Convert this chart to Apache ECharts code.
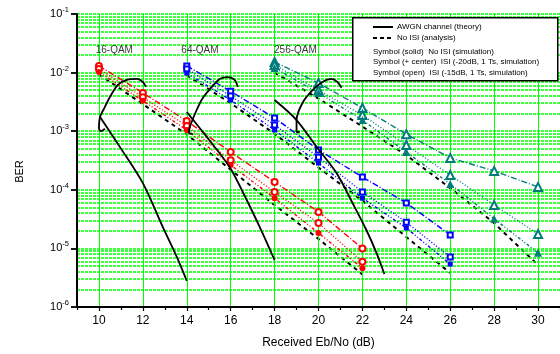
<!DOCTYPE html>
<html><head><meta charset="utf-8">
<script src="https://cdn.jsdelivr.net/npm/echarts@6/dist/echarts.min.js"></script>
<style>html,body{margin:0;padding:0;background:#fff}#c{width:560px;height:354px}</style>
</head><body><div id="c"></div>
<script>
// ---- data ----
const xTicks = [10,12,14,16,18,20,22,24,26,28,30];
const xMinorTicks = [9,11,13,15,17,19,21,23,25,27,29,31];
const yDecades = [1e-6,1e-5,1e-4,1e-3,1e-2,1e-1];
const yMinor = [2e-6,3e-6,4e-6,5e-6,6e-6,7e-6,8e-6,9e-6,2e-5,3e-5,4e-5,5e-5,6e-5,7e-5,8e-5,9e-5,2e-4,3e-4,4e-4,5e-4,6e-4,7e-4,8e-4,9e-4,2e-3,3e-3,4e-3,5e-3,6e-3,7e-3,8e-3,9e-3,2e-2,3e-2,4e-2,5e-2,6e-2,7e-2,8e-2,9e-2];

const xs16 = [10,12,14,16,18,20,22];
const ber16Solid = [1.02e-2,3.3e-3,1.05e-3,2.65e-4,7.2e-5,1.83e-5,4.6e-6];
const ber16Center = [1.15e-2,3.8e-3,1.23e-3,3.2e-4,9.2e-5,2.7e-5,5.9e-6];
const ber16Open = [1.3e-2,4.5e-3,1.5e-3,4.4e-4,1.36e-4,4.2e-5,1.0e-5];
const ber16Analysis = [9.3e-3,2.9e-3,8.8e-4,2.2e-4,5.5e-5,1.45e-5,3.6e-6];

const xs64 = [14,16,18,20,22,24,26];
const ber64Solid = [9.8e-3,3.4e-3,1.05e-3,2.86e-4,7.2e-5,2.23e-5,5.4e-6];
const ber64Center = [1.15e-2,4.0e-3,1.28e-3,3.6e-4,9.2e-5,2.8e-5,7.1e-6];
const ber64Open = [1.3e-2,4.8e-3,1.68e-3,4.8e-4,1.65e-4,5.96e-5,1.7e-5];
const ber64Analysis = [9.0e-3,3.0e-3,9.0e-4,2.4e-4,6.5e-5,1.57e-5,3.8e-6];

const xs256 = [18,20,22,24,26,28,30];
const ber256Solid = [1.2e-2,4.5e-3,1.55e-3,4.4e-4,1.26e-4,3.2e-5,8.4e-6];
const ber256Center = [1.35e-2,5.0e-3,1.89e-3,5.8e-4,1.79e-4,5.5e-5,1.76e-5];
const ber256Open = [1.52e-2,6.65e-3,2.49e-3,8.9e-4,3.5e-4,2.1e-4,1.12e-4];
const ber256Analysis = [1.0e-2,3.6e-3,1.2e-3,3.9e-4,1.07e-4,2.7e-5,5.2e-6];

const theory16Hook = [[10.27,1.1e-3],[10.09,1.0e-3],[10.0,1.13e-3],[10.05,1.75e-3],[10.27,2.6e-3],[10.5,3.84e-3],[10.86,6.2e-3],[11.27,7.5e-3],[11.73,7.8e-3],[12.0,6.9e-3],[12.14,5.7e-3]];
const theory16Drop = [[10.05,1.75e-3],[10.95,5.4e-4],[12.0,1.3e-4],[12.91,2.3e-5],[13.55,7.1e-6],[14.0,2.8e-6]];
const theory64Hook = [[14.27,9.0e-4],[14.1,9.3e-4],[14.14,1.18e-3],[14.45,2.3e-3],[14.73,3.7e-3],[15.14,5.7e-3],[15.5,7.8e-3],[15.86,8.4e-3],[16.18,7.5e-3],[16.32,5.7e-3]];
const theory64Drop = [[14.0,2.13e-3],[14.91,8.0e-4],[15.95,2.45e-4],[16.73,6.7e-5],[17.45,1.83e-5],[18.0,6.3e-6]];
const theory256Hook = [[19.14,9.7e-4],[19.0,9.7e-4],[19.0,1.55e-3],[19.27,3.03e-3],[19.73,5.0e-3],[20.18,6.9e-3],[20.59,7.8e-3],[20.86,6.9e-3],[21.05,5.5e-3]];
const theory256Drop = [[18.0,3.4e-3],[19.0,1.55e-3],[19.91,5.4e-4],[20.82,1.94e-4],[21.55,5.96e-5],[22.18,2.06e-5],[22.64,8.4e-6],[23.0,3.66e-6]];

const groupLabels = ['16-QAM','64-QAM','256-QAM'];
const groupLabelX = [10.7,14.6,18.95];
const groupLabelY = [2.4e-2,2.4e-2,2.4e-2];

const legendTexts = ['AWGN channel (theory)','No ISI (analysis)','Symbol (solid)  No ISI (simulation)','Symbol (+ center)  ISI (-20dB, 1 Ts, simulation)','Symbol (open)  ISI (-15dB, 1 Ts, simulation)'];

// ---- build ----
const FONT = 'Liberation Sans, Arial, sans-serif';
const RED = '#ff0000', BLUE = '#0000ff', TEAL = '#007b7b';
const GREEN = '#00ff00';
const X_MIN = 9, X_MAX = 31;
const zip = (xs, ys) => xs.map((x,i)=>[x, ys[i]]);

function simSeries(xs, ys, color, sym, kind, dash) {
  const size = sym==='triangle'?8:(sym==='rect'?5:6);
  const base = {
    type:'line', data: zip(xs, ys), z: 5, animation:false,
    lineStyle:{color, width:1.4, type:dash},
    itemStyle:{color, borderColor:color},
    symbolSize:size, symbolKeepAspect:true
  };
  if (kind==='solid') { base.symbol = sym; base.itemStyle.borderWidth=0; }
  else if (kind==='center') { base.symbol = 'empty'+sym[0].toUpperCase()+sym.slice(1); base.itemStyle.borderWidth=2.4; }
  else { base.symbol = 'empty'+sym[0].toUpperCase()+sym.slice(1); base.itemStyle.borderWidth=1.3; }
  return base;
}
function analysisSeries(xs, ys) {
  return {type:'line', data: zip(xs, ys), z:4, animation:false, symbol:'none',
    lineStyle:{color:'#000', width:2, type:[4,4]}};
}
function theorySeries(pts) {
  return {type:'line', data: pts, z:6, animation:false, symbol:'none', smooth:0.3,
    lineStyle:{color:'#000', width:1.8}};
}
const hGrid = yMinor.concat(yDecades).map(v => [{coord:[X_MIN, v]}, {coord:[X_MAX, v]}]);
const vGrid = xTicks.map(v => [{coord:[v, 1e-6]}, {coord:[v, 1e-1]}]);
const yMinorTickMarks = yMinor.map(v => [{coord:[X_MIN-0.2, v]}, {coord:[X_MIN, v]}]);

function markLineSeries(data, style, z) {
  return {type:'line', data:[], z:z, silent:true, animation:false, clip:false,
    markLine:{silent:true, symbol:['none','none'], label:{show:false}, animation:false,
      lineStyle:style, emphasis:{disabled:true}, data:data}};
}

const series = [
  markLineSeries(hGrid, {color:GREEN, width:1.6, type:[3,1]}, 1),
  markLineSeries(vGrid, {color:GREEN, width:1, type:'solid'}, 1),
  markLineSeries(yMinorTickMarks, {color:'#000', width:1.5, type:'solid'}, 9),
  analysisSeries(xs16, ber16Analysis), analysisSeries(xs64, ber64Analysis), analysisSeries(xs256, ber256Analysis),
  simSeries(xs16, ber16Open, RED, 'circle', 'open', [6,2,1,2]),
  simSeries(xs16, ber16Center, RED, 'circle', 'center', [1,2]),
  simSeries(xs16, ber16Solid, RED, 'circle', 'solid', [3,2,1,2,1,2]),
  simSeries(xs64, ber64Open, BLUE, 'rect', 'open', [6,2,1,2]),
  simSeries(xs64, ber64Center, BLUE, 'rect', 'center', [1,2]),
  simSeries(xs64, ber64Solid, BLUE, 'rect', 'solid', [3,2,1,2,1,2]),
  simSeries(xs256, ber256Open, TEAL, 'triangle', 'open', [6,2,1,2]),
  simSeries(xs256, ber256Center, TEAL, 'triangle', 'center', [1,2]),
  simSeries(xs256, ber256Solid, TEAL, 'triangle', 'solid', [3,2,1,2,1,2]),
  theorySeries(theory16Hook), theorySeries(theory16Drop),
  theorySeries(theory64Hook), theorySeries(theory64Drop),
  theorySeries(theory256Hook), theorySeries(theory256Drop),
  {type:'scatter', z:7, animation:false, symbolSize:0, silent:true,
   data: groupLabels.map((t,i)=>({value:[groupLabelX[i], groupLabelY[i]], name:t})),
   label:{show:true, position:'inside', formatter: p=>p.name, color:'#000', fontFamily:FONT, fontSize:10}}
];

const option = {
  backgroundColor:'#fff',
  animation:false,
  textStyle:{fontFamily:FONT},
  grid:{left:77, right:0, top:14, bottom:47, containLabel:false},
  xAxis:[
    {type:'value', min:X_MIN, max:X_MAX, z:10,
     axisLine:{lineStyle:{color:'#000', width:2}},
     axisTick:{customValues:xTicks, length:4, lineStyle:{color:'#000', width:1.2}},
     axisLabel:{customValues:xTicks, color:'#000', fontSize:12, margin:8, fontFamily:FONT},
     splitLine:{show:false},
     name:'Received Eb/No (dB)', nameLocation:'middle', nameGap:30,
     nameTextStyle:{color:'#000', fontSize:12, fontFamily:FONT}},
    {type:'value', min:X_MIN, max:X_MAX, z:10, position:'bottom',
     axisLine:{show:false},
     axisTick:{customValues:xMinorTicks, length:3, lineStyle:{color:'#000', width:1.2}},
     axisLabel:{show:false}, splitLine:{show:false}}
  ],
  yAxis:[
    {type:'log', logBase:10, min:1e-6, max:1e-1, z:10,
     axisLine:{lineStyle:{color:'#000', width:2}},
     axisTick:{length:6, lineStyle:{color:'#000', width:1.8}},
     splitLine:{show:false}, minorTick:{show:false},
     axisLabel:{color:'#000', margin:8, fontFamily:FONT,
       formatter: v => '{b|10}{s|' + Math.round(Math.log10(v)) + '}',
       rich:{b:{fontSize:11, color:'#000', fontFamily:FONT}, s:{fontSize:7.5, color:'#000', fontFamily:FONT, padding:[0,0,8,0]}}},
     name:'BER', nameLocation:'middle', nameGap:52,
     nameTextStyle:{color:'#000', fontSize:11, fontFamily:FONT, padding:[0,22,0,0]}}
  ],
  series: series,
  graphic:[
    {type:'rect', left:352, top:17, z:20, shape:{width:205, height:63}, style:{fill:'#fff', stroke:'#000', lineWidth:1.5}},
    {type:'line', z:21, shape:{x1:373, y1:27, x2:393, y2:27}, style:{stroke:'#000', lineWidth:2}},
    {type:'line', z:21, shape:{x1:373, y1:38, x2:393, y2:38}, style:{stroke:'#000', lineWidth:2, lineDash:[4,3]}},
    {type:'text', z:21, x:397, y:27, style:{text:legendTexts[0], font:'8px '+FONT, fill:'#000', textVerticalAlign:'middle'}},
    {type:'text', z:21, x:397, y:38, style:{text:legendTexts[1], font:'8px '+FONT, fill:'#000', textVerticalAlign:'middle'}},
    {type:'text', z:21, x:373, y:52, style:{text:legendTexts[2], font:'8px '+FONT, fill:'#000', textVerticalAlign:'middle'}},
    {type:'text', z:21, x:373, y:62, style:{text:legendTexts[3], font:'8px '+FONT, fill:'#000', textVerticalAlign:'middle'}},
    {type:'text', z:21, x:373, y:73, style:{text:legendTexts[4], font:'8px '+FONT, fill:'#000', textVerticalAlign:'middle'}}
  ]
};
const chart = echarts.init(document.getElementById('c'), null, {renderer:'canvas'});
chart.setOption(option);
</script></body></html>
